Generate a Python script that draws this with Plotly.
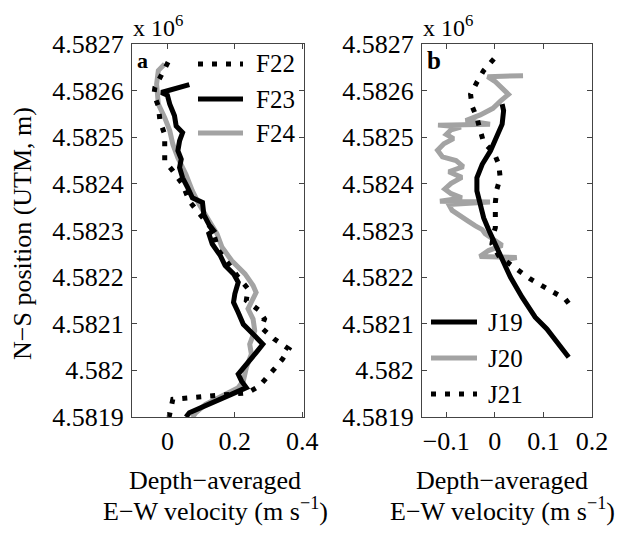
import plotly.graph_objects as go

W, H = 617, 535

# ---- data: panel a (E-W velocity m/s, N-S position m) ----
F22_v = [0.002, -0.037, -0.040, -0.027, -0.022, -0.008, -0.008, -0.008, 0.016, 0.045, 0.065, 0.103, 0.133,
         0.152, 0.181, 0.210, 0.239, 0.234, 0.273, 0.288, 0.278, 0.317, 0.360, 0.341, 0.317, 0.297, 0.273,
         0.239, 0.133, 0.074, 0.016, 0.005]
F22_y = [4582661, 4582607, 4582592, 4582567, 4582535, 4582506, 4582485, 4582449, 4582428, 4582399, 4582363,
         4582327, 4582302, 4582257, 4582228, 4582200, 4582175, 4582150, 4582128, 4582110, 4582092, 4582067,
         4582046, 4582024, 4582003, 4581985, 4581967, 4581952, 4581945, 4581942, 4581938, 4581900]

F23_v = [0.065, -0.018, 0.000, 0.007, 0.021, 0.026, 0.045, 0.036, 0.031, 0.041, 0.036, 0.045, 0.060, 0.074,
         0.104, 0.108, 0.123, 0.137, 0.123, 0.133, 0.157, 0.171, 0.196, 0.210, 0.200, 0.196, 0.210, 0.225,
         0.259, 0.283, 0.263, 0.244, 0.225, 0.210, 0.220, 0.234, 0.191, 0.142, 0.094, 0.065, 0.055]
F23_y = [4582613, 4582596, 4582590, 4582571, 4582546, 4582524, 4582510, 4582492, 4582471, 4582453, 4582435,
         4582413, 4582392, 4582370, 4582360, 4582334, 4582313, 4582300, 4582293, 4582271, 4582246, 4582225,
         4582207, 4582189, 4582164, 4582146, 4582124, 4582099, 4582074, 4582056, 4582038, 4582020, 4582006,
         4581992, 4581977, 4581963, 4581949, 4581934, 4581920, 4581909, 4581900]

F24_v = [-0.008, -0.027, -0.032, -0.027, -0.008, 0.007, 0.016, 0.031, 0.055, 0.074, 0.094, 0.118, 0.142,
         0.147, 0.162, 0.191, 0.230, 0.254, 0.263, 0.249, 0.239, 0.254, 0.259, 0.244, 0.249, 0.234, 0.225,
         0.210, 0.162, 0.113, 0.084, 0.074]
F24_y = [4582657, 4582643, 4582614, 4582571, 4582542, 4582514, 4582485, 4582456, 4582420, 4582385, 4582356,
         4582327, 4582302, 4582293, 4582264, 4582235, 4582207, 4582182, 4582167, 4582149, 4582132, 4582110,
         4582085, 4582056, 4582035, 4582006, 4581977, 4581963, 4581945, 4581927, 4581909, 4581899]

# ---- data: panel b ----
J19_v = [0.015, 0.018, 0.015, 0.004, -0.009, -0.026, -0.037, -0.037, -0.030, -0.023, -0.013, -0.002, 0.015,
         0.032, 0.056, 0.083, 0.107, 0.131, 0.152]
J19_y = [4582571, 4582557, 4582528, 4582499, 4582471, 4582442, 4582413, 4582385, 4582356, 4582327, 4582302,
         4582278, 4582235, 4582200, 4582157, 4582114, 4582089, 4582056, 4582028]

J20_v = [0.058, -0.015, 0.000, 0.012, 0.028, 0.012, -0.004, -0.030, -0.060, -0.010, -0.117, -0.070, -0.090,
         -0.100, -0.085, -0.105, -0.118, -0.108, -0.080, -0.065, -0.095, -0.068, -0.090, -0.103, -0.090,
         -0.068, -0.113, -0.010, -0.095, -0.088, -0.070, -0.055, -0.040, -0.026, -0.020, -0.006, 0.015,
         -0.013, -0.031, 0.045, 0.015]
J20_y = [4582632, 4582630, 4582620, 4582608, 4582592, 4582578, 4582562, 4582548, 4582536, 4582528, 4582526,
         4582522, 4582516, 4582506, 4582497, 4582486, 4582472, 4582458, 4582450, 4582437, 4582426, 4582414,
         4582401, 4582389, 4582379, 4582370, 4582363, 4582361, 4582356, 4582343, 4582332, 4582320, 4582310,
         4582302, 4582293, 4582282, 4582268, 4582257, 4582244, 4582242, 4582236]

J21_v = [-0.002, -0.023, -0.037, -0.050, -0.047, -0.037, -0.030, -0.023, -0.002, 0.008, 0.011, 0.004, 0.001,
         0.001, 0.001, -0.002, -0.006, 0.008, 0.025, 0.049, 0.073, 0.097, 0.121, 0.145, 0.159]
J21_y = [4582668, 4582643, 4582618, 4582592, 4582567, 4582542, 4582514, 4582489, 4582467, 4582442, 4582413,
         4582388, 4582360, 4582331, 4582306, 4582296, 4582271, 4582246, 4582232, 4582214, 4582196, 4582182,
         4582167, 4582153, 4582134]

y_tickvals = [4581900, 4582000, 4582100, 4582200, 4582300, 4582400, 4582500, 4582600, 4582700]
y_ticktext = ["4.5819", "4.582", "4.5821", "4.5822", "4.5823", "4.5824", "4.5825", "4.5826", "4.5827"]
xa_tickvals = [0, 0.2, 0.4]
xa_ticktext = ["0", "0.2", "0.4"]
xb_tickvals = [-0.1, 0, 0.1, 0.2]
xb_ticktext = ["\u22120.1", "0", "0.1", "0.2"]

legend_a = ["F22", "F23", "F24"]
legend_b = ["J19", "J20", "J21"]

FONT = "Times New Roman"
GRAY = "#a3a3a3"
DOT = "5px,9px"
LW = 5


def px(x):
    return x / W


def py(y):
    return 1 - y / H


STY = {
    "F22": dict(color="black", width=LW, dash=DOT),
    "F23": dict(color="black", width=LW),
    "F24": dict(color=GRAY, width=LW),
    "J19": dict(color="black", width=LW),
    "J20": dict(color=GRAY, width=LW),
    "J21": dict(color="black", width=LW, dash=DOT),
}

fig = go.Figure()

# panel a (gray under, then solid, then dotted)
fig.add_trace(go.Scatter(x=F24_v, y=F24_y, mode="lines", name="F24", line=STY["F24"], xaxis="x", yaxis="y"))
fig.add_trace(go.Scatter(x=F23_v, y=F23_y, mode="lines", name="F23", line=STY["F23"], xaxis="x", yaxis="y"))
fig.add_trace(go.Scatter(x=F22_v, y=F22_y, mode="lines", name="F22", line=STY["F22"], xaxis="x", yaxis="y"))

# panel b
fig.add_trace(go.Scatter(x=J20_v, y=J20_y, mode="lines", name="J20", line=STY["J20"], xaxis="x2", yaxis="y2"))
fig.add_trace(go.Scatter(x=J19_v, y=J19_y, mode="lines", name="J19", line=STY["J19"], xaxis="x2", yaxis="y2"))
fig.add_trace(go.Scatter(x=J21_v, y=J21_y, mode="lines", name="J21", line=STY["J21"], xaxis="x2", yaxis="y2"))

axis_common = dict(
    showline=True, linecolor="#444", linewidth=1.2, mirror="ticks",
    ticks="inside", ticklen=5, tickcolor="#444", tickwidth=1,
    showgrid=False, zeroline=False,
    tickfont=dict(family=FONT, size=26, color="black"),
    automargin=False,
)

fig.update_layout(
    width=W, height=H,
    margin=dict(l=0, r=0, t=0, b=0, pad=0),
    paper_bgcolor="white", plot_bgcolor="white",
    font=dict(family=FONT, size=25, color="black"),
    showlegend=False,
    xaxis=dict(domain=[px(132), px(304)], range=[-0.105, 0.405], tickvals=xa_tickvals, ticktext=xa_ticktext,
               anchor="y", ticklabelstandoff=1, **axis_common),
    yaxis=dict(domain=[py(417), py(44)], range=[4581900, 4582700], tickvals=y_tickvals, ticktext=y_ticktext,
               anchor="x", ticklabelstandoff=2, **axis_common),
    xaxis2=dict(domain=[px(422), px(592)], range=[-0.15, 0.2], tickvals=xb_tickvals, ticktext=xb_ticktext,
                anchor="y2", ticklabelstandoff=1, **axis_common),
    yaxis2=dict(domain=[py(417), py(44)], range=[4581900, 4582700], tickvals=y_tickvals, ticktext=y_ticktext,
                anchor="x2", ticklabelstandoff=2, **axis_common),
)

ann = []
shapes = []
# legends drawn in paper space
for names, x0, x1, xt, ys in ((legend_a, 198, 243, 254, (64, 99, 133)),
                              (legend_b, 431, 477, 486, (322, 358, 394))):
    for name, yy in zip(names, ys):
        shapes.append(dict(type="line", xref="paper", yref="paper", x0=px(x0), x1=px(x1), y0=py(yy), y1=py(yy),
                           line=STY[name]))
        ann.append(dict(x=px(xt), y=py(yy), xref="paper", yref="paper", xanchor="left", yanchor="middle",
                        text=name, showarrow=False, font=dict(family=FONT, size=25, color="black")))
# multiplier labels
for xl in (131, 421):
    ann.append(dict(x=px(xl), y=py(26), xref="paper", yref="paper", xanchor="left", yanchor="middle",
                    text="x 10<sup>6</sup>", showarrow=False, font=dict(family=FONT, size=24, color="black")))
# panel letters
ann.append(dict(x=px(135), y=py(60), xref="paper", yref="paper", xanchor="left", yanchor="middle",
                text="<b>a</b>", showarrow=False, font=dict(family=FONT, size=22, color="black")))
ann.append(dict(x=px(425), y=py(60), xref="paper", yref="paper", xanchor="left", yanchor="middle",
                text="<b>b</b>", showarrow=False, font=dict(family=FONT, size=25, color="black")))
# x titles
for xc in (215, 502):
    ann.append(dict(x=px(xc), y=py(480), xref="paper", yref="paper", xanchor="center", yanchor="middle",
                    text="Depth\u2212averaged", showarrow=False, font=dict(family=FONT, size=26, color="black")))
    ann.append(dict(x=px(xc), y=py(509), xref="paper", yref="paper", xanchor="center", yanchor="middle",
                    text="E\u2212W velocity (m s<sup>\u22121</sup>)", showarrow=False,
                    font=dict(family=FONT, size=26, color="black")))
# y title
ann.append(dict(x=px(22), y=py(234), xref="paper", yref="paper", xanchor="center", yanchor="middle",
                text="N\u2212S position (UTM, m)", textangle=-90, showarrow=False,
                font=dict(family=FONT, size=26, color="black")))
fig.update_layout(annotations=ann, shapes=shapes)

fig.write_html("out.html", config={"displayModeBar": False},
               post_script="document.body.style.margin='0px';document.body.style.overflow='hidden';")
